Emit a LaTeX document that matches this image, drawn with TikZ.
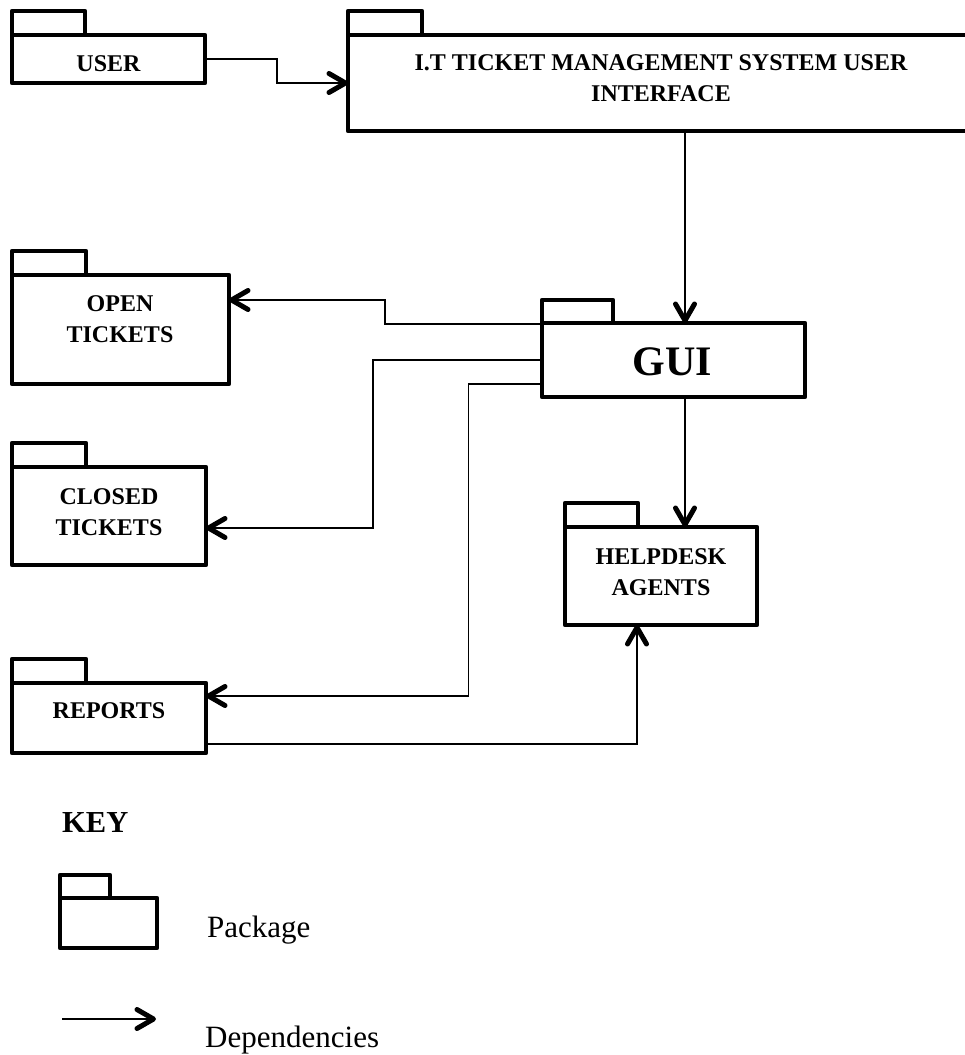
\documentclass[tikz,border=0pt]{standalone}
\usepackage{fontspec}
\setmainfont{Liberation Serif}
\usetikzlibrary{arrows.meta}
\pgfdeclarearrow{
  name = ThickVee,
  setup code = {
    \pgfarrowssettipend{0pt}
    \pgfarrowssetlineend{-2.5pt}
    \pgfarrowssetbackend{-22pt}
    \pgfarrowsupperhullpoint{-22pt}{12pt}
    \pgfarrowsupperhullpoint{0pt}{0pt}
  },
  drawing code = {
    \pgfsetdash{}{0pt}
    \pgfsetlinewidth{5pt}
    \pgfsetroundcap
    \pgfsetroundjoin
    \pgfpathmoveto{\pgfqpoint{-19pt}{9.5pt}}
    \pgfpathlineto{\pgfqpoint{-2.5pt}{0pt}}
    \pgfpathlineto{\pgfqpoint{-19pt}{-9.5pt}}
    \pgfusepathqstroke
  }
}
\tikzset{
  pkgbody/.style={draw, line width=4.5pt, line join=round, inner sep=0pt, outer sep=0pt},
  pkgtab/.style={draw, line width=4.5pt, line join=round},
  lbl/.style={font=\fontsize{24}{31}\selectfont\bfseries, inner sep=0pt, align=center, anchor=base},
  dep/.style={line width=1.7pt, -{ThickVee}},
}
\begin{document}
\begin{tikzpicture}[x=1pt,y=-1pt]
\useasboundingbox (0,0) rectangle (965,1055);

% packages (bodies)
\node[pkgbody, minimum width=193pt, minimum height=48pt] (user) at (108.5,59) {};
\node[pkgbody, minimum width=626pt, minimum height=96pt] (it) at (661,83) {};
\node[pkgbody, minimum width=263pt, minimum height=74pt] (gui) at (673.5,360) {};
\node[pkgbody, minimum width=217pt, minimum height=109pt] (open) at (120.5,329.5) {};
\node[pkgbody, minimum width=194pt, minimum height=98pt] (closed) at (109,516) {};
\node[pkgbody, minimum width=194pt, minimum height=70pt] (reports) at (109,718) {};
\node[pkgbody, minimum width=192pt, minimum height=98pt] (help) at (661,576) {};
\node[pkgbody, minimum width=97pt, minimum height=50pt] (key) at (108.5,923) {};

% tabs
\draw[pkgtab] (user.north west) rectangle ++(73,-24);
\draw[pkgtab] (it.north west) rectangle ++(74,-24);
\draw[pkgtab] (gui.north west) rectangle ++(71,-23);
\draw[pkgtab] (open.north west) rectangle ++(74,-24);
\draw[pkgtab] (closed.north west) rectangle ++(74,-24);
\draw[pkgtab] (reports.north west) rectangle ++(74,-24);
\draw[pkgtab] (help.north west) rectangle ++(73,-24);
\draw[pkgtab] (key.north west) rectangle ++(50,-23);

% labels (anchor=base is the baseline of the last line)
\node[lbl] (user-t) at (108.5,71.7) {USER};
\node[lbl] (it-t) at (661,101.7) {I.T TICKET MANAGEMENT SYSTEM USER\\INTERFACE};
\node[lbl, font=\fontsize{42}{48}\selectfont\bfseries] (gui-t) at (672.5,375) {GUI};
\node[lbl] (open-t) at (120,342) {OPEN\\TICKETS};
\node[lbl] (closed-t) at (109,535) {CLOSED\\TICKETS};
\node[lbl] (reports-t) at (109,718) {REPORTS};
\node[lbl] (help-t) at (661,595) {HELPDESK\\AGENTS};
\node[lbl, font=\fontsize{30.5}{36}\selectfont\bfseries, anchor=base west] (key-t) at (62,832) {KEY};
\node[inner sep=0pt, anchor=base west, font=\fontsize{31}{36}\selectfont] (pkg-t) at (207,937) {Package};
\node[inner sep=0pt, anchor=base west, font=\fontsize{31}{36}\selectfont] (dep-t) at (205,1047) {Dependencies};

% connectors
\coordinate (cx) at (685,0);
\draw[dep] (user.east) -- ++(72,0) |- (it.west);
\draw[dep] (cx |- it.south) -- (cx |- gui.north);
\draw[dep] ([yshift=-1pt]gui.north west) -- ++(-157,0) |- ([yshift=29.5pt]open.east);
\draw[dep] (gui.west) -- ++(-169,0) |- ([yshift=-12pt]closed.east);
\draw[dep] ([yshift=-24pt]gui.west) -- ++(-73.5,0) |- ([yshift=22pt]reports.east);
\draw[dep] (cx |- gui.south) -- (cx |- help.north);
\draw[dep] ([yshift=-26pt]reports.east) -| ([xshift=-24pt]help.south);

% key arrow
\coordinate (ka) at (62,1019);
\coordinate (kb) at (156,1019);
\draw[dep] (ka) -- (kb);
\end{tikzpicture}
\end{document}
